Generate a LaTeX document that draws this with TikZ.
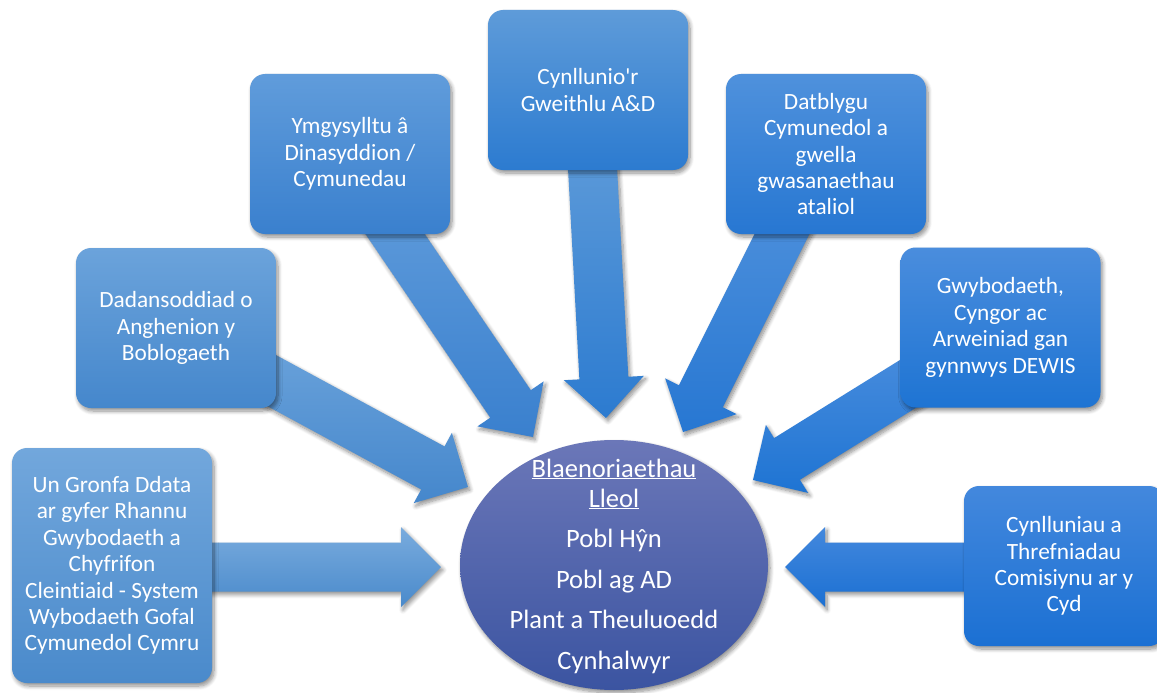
\documentclass[tikz,border=0pt]{standalone}
\usepackage{fontspec}
\setmainfont{Carlito}[Ligatures={TeXOff,CommonOff}]
\usetikzlibrary{shapes.geometric,calc,shadows.blur}
\definecolor{bA}{HTML}{72A7DC}\definecolor{bAd}{HTML}{4A8ACB}
\definecolor{bB}{HTML}{6BA3DB}\definecolor{bBd}{HTML}{4587CC}
\definecolor{bC}{HTML}{609CDB}\definecolor{bCd}{HTML}{3A80CE}
\definecolor{bD}{HTML}{5E9BD9}\definecolor{bDd}{HTML}{2C7BD0}
\definecolor{bE}{HTML}{4F91DC}\definecolor{bEd}{HTML}{2777D2}
\definecolor{bF}{HTML}{4A8DDD}\definecolor{bFd}{HTML}{1E74D3}
\definecolor{bG}{HTML}{4388DD}\definecolor{bGd}{HTML}{1B70D3}
\definecolor{hubtop}{HTML}{6B77B8}\definecolor{hubbot}{HTML}{3B54A1}
\newcommand\blockarr[4]{%
  \path[softshadow, top color=#3, bottom color=#4]
    let \p1=(#1), \p2=(#2), \n1={atan2(\y2-\y1,\x2-\x1)} in
    (\p2)
    -- ($(\p2)+(\n1+180:40pt)+(\n1+90:40pt)$)
    -- ($(\p2)+(\n1+180:40pt)+(\n1+90:24.5pt)$)
    -- ($(\p1)+(\n1+90:24.5pt)$)
    -- ($(\p1)+(\n1-90:24.5pt)$)
    -- ($(\p2)+(\n1+180:40pt)+(\n1-90:24.5pt)$)
    -- ($(\p2)+(\n1+180:40pt)+(\n1-90:40pt)$)
    -- cycle;}
\tikzset{
  softshadow/.style={blur shadow={shadow xshift=2pt, shadow yshift=-3pt,
      shadow blur radius=4pt, shadow blur steps=8, shadow opacity=45}},
  box/.style={rectangle, rounded corners=15pt, minimum width=200pt,
      minimum height=160pt, inner sep=4pt, align=center,
      text=white, font={\fontsize{23.3}{26.4}\selectfont}, softshadow},
  hub/.style={ellipse, minimum width=308pt, minimum height=250pt, inner sep=0pt,
      top color=hubtop, bottom color=hubbot, softshadow},
  hubtext/.style={align=center, text=white, inner sep=0pt,
      font={\fontsize{26.5}{30}\selectfont}},
}
\begin{document}
\begin{tikzpicture}[x=1pt,y=-1pt]
\useasboundingbox (0,0) rectangle (1157,693);
% arrow end points
\coordinate (t1) at (150,567);  \coordinate (p1) at (441,567);
\coordinate (t2) at (230,358);  \coordinate (p2) at (468,487);
\coordinate (t3) at (372,200);  \coordinate (p3) at (533,437);
\coordinate (t4) at (591,140);  \coordinate (p4) at (606,418);
\coordinate (t5) at (799,200);  \coordinate (p5) at (683,432);
\coordinate (t6) at (940,364);  \coordinate (p6) at (753,480);
\coordinate (t7) at (1000,567); \coordinate (p7) at (785,567);
% arrows
\blockarr{t1}{p1}{bA!95!white}{bAd}
\blockarr{t2}{p2}{bB}{bBd}
\blockarr{t3}{p3}{bC}{bCd}
\blockarr{t4}{p4}{bD}{bDd}
\blockarr{t5}{p5}{bE}{bEd}
\blockarr{t6}{p6}{bF}{bFd}
\blockarr{t7}{p7}{bG}{bGd}
% hub
\node[hub] (hub) at (614,565) {};
\node[hubtext] (hubt) at (614,566) {\underline{Blaenoriaethau}\\\underline{Lleol}\\[10.5pt]Pobl Hŷn\\[10.5pt]Pobl ag AD\\[10.5pt]Plant a Theuluoedd\\[10.5pt]Cynhalwyr};
% boxes
\node[box, minimum height=235pt, top color=bA, bottom color=bAd] (b1) at (112,565.5)
  {Un Gronfa Ddata\\ar gyfer Rhannu\\Gwybodaeth a\\Chyfrifon\\Cleintiaid - System\\Wybodaeth Gofal\\Cymunedol Cymru};
\node[box, top color=bB, bottom color=bBd] (b2) at (176,328)
  {Dadansoddiad o\\Anghenion y\\Boblogaeth};
\node[box, top color=bC, bottom color=bCd] (b3) at (350,154)
  {Ymgysylltu â\\Dinasyddion /\\Cymunedau};
\node[box, top color=bD, bottom color=bDd] (b4) at (588,90)
  {Cynllunio'r\\Gweithlu A\&D};
\node[box, top color=bE, bottom color=bEd] (b5) at (826,154)
  {Datblygu\\Cymunedol a\\gwella\\gwasanaethau\\ataliol};
\node[box, top color=bF, bottom color=bFd] (b6) at (1000.5,327.5)
  {Gwybodaeth,\\Cyngor ac\\Arweiniad gan\\gynnwys DEWIS};
\node[box, top color=bG, bottom color=bGd] (b7) at (1064,566)
  {Cynlluniau a\\Threfniadau\\Comisiynu ar y\\Cyd};
\end{tikzpicture}
\end{document}
